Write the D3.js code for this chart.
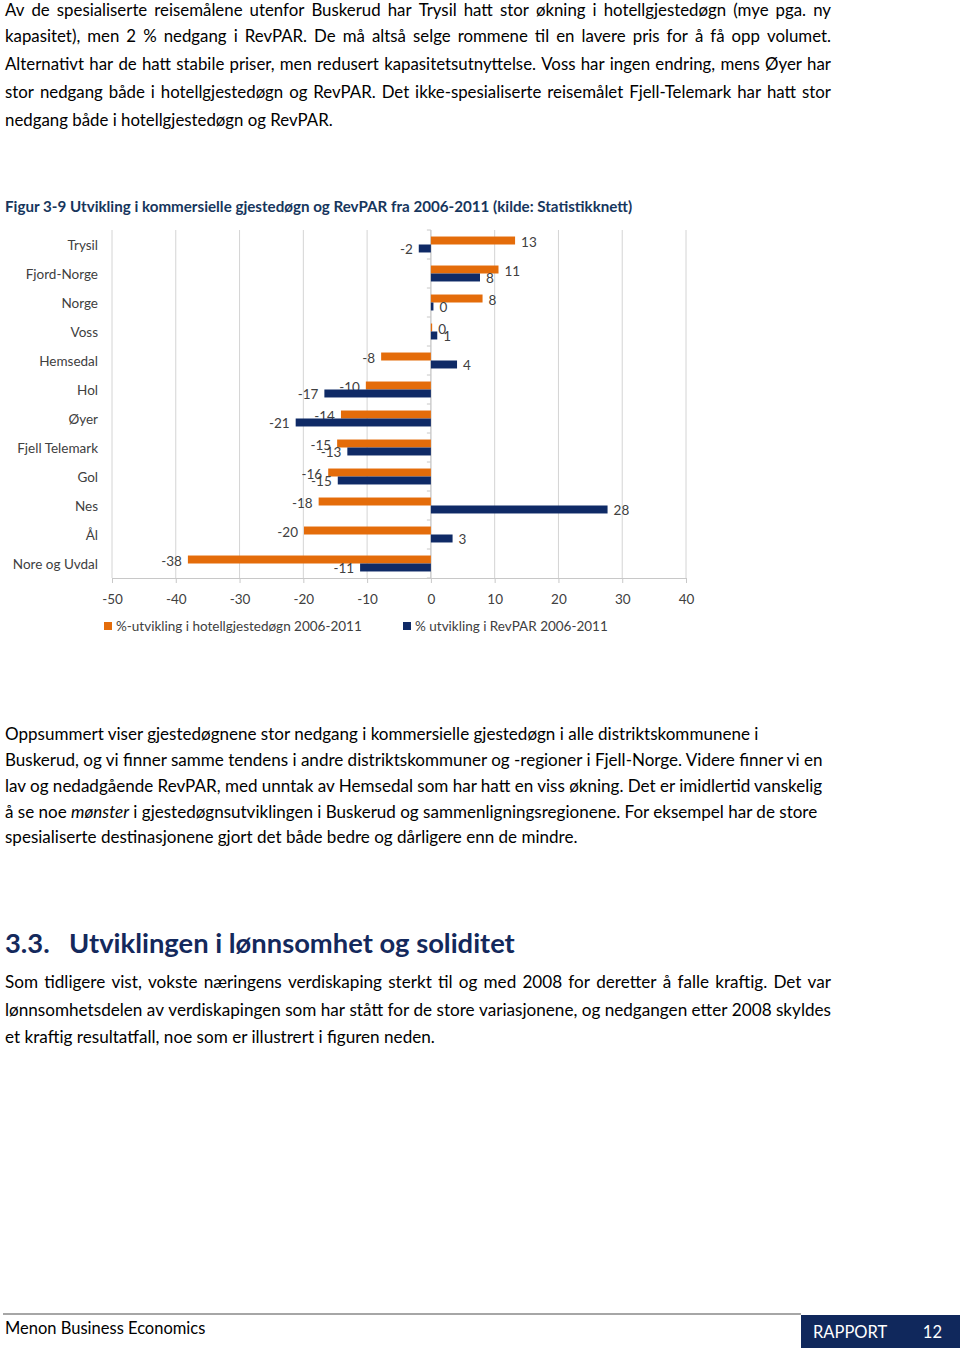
<!DOCTYPE html>
<html><head><meta charset="utf-8">
<script src="https://cdn.jsdelivr.net/npm/d3@7"></script>
<style>body{margin:0;background:#fff}svg{display:block}</style>
</head><body>
<svg id="page" width="960" height="1353"></svg>
<script>
// ---------- DATA ----------
const categories = ["Trysil","Fjord-Norge","Norge","Voss","Hemsedal","Hol","Øyer","Fjell Telemark","Gol","Nes","Ål","Nore og Uvdal"];
const guestNights = [13.2, 10.6, 8.1, 0.2, -7.8, -10.2, -14.1, -14.7, -16.1, -17.6, -19.9, -38.1];
const revpar      = [-1.9, 7.7, 0.4, 1.0, 4.1, -16.7, -21.2, -13.1, -14.6, 27.7, 3.4, -11.1];
const xTicks = [-50, -40, -30, -20, -10, 0, 10, 20, 30, 40];
const seriesNames = ["%-utvikling i hotellgjestedøgn 2006-2011", "% utvikling i RevPAR 2006-2011"];
const figureTitle = "Figur 3-9 Utvikling i kommersielle gjestedøgn og RevPAR fra 2006-2011 (kilde: Statistikknett)";

const para1 = [
  "Av de spesialiserte reisemålene utenfor Buskerud har Trysil hatt stor økning i hotellgjestedøgn (mye pga. ny",
  "kapasitet), men 2 % nedgang i RevPAR. De må altså selge rommene til en lavere pris for å få opp volumet.",
  "Alternativt har de hatt stabile priser, men redusert kapasitetsutnyttelse. Voss har ingen endring, mens Øyer har",
  "stor nedgang både i hotellgjestedøgn og RevPAR. Det ikke-spesialiserte reisemålet Fjell-Telemark har hatt stor",
  "nedgang både i hotellgjestedøgn og RevPAR."
];
const para2 = [
  "Oppsummert viser gjestedøgnene stor nedgang i kommersielle gjestedøgn i alle distriktskommunene i",
  "Buskerud, og vi finner samme tendens i andre distriktskommuner og -regioner i Fjell-Norge. Videre finner vi en",
  "lav og nedadgående RevPAR, med unntak av Hemsedal som har hatt en viss økning. Det er imidlertid vanskelig",
  "å se noe |mønster| i gjestedøgnsutviklingen i Buskerud og sammenligningsregionene. For eksempel har de store",
  "spesialiserte destinasjonene gjort det både bedre og dårligere enn de mindre."
];
const heading = ["3.3.", "Utviklingen i lønnsomhet og soliditet"];
const para3 = [
  "Som tidligere vist, vokste næringens verdiskaping sterkt til og med 2008 for deretter å falle kraftig. Det var",
  "lønnsomhetsdelen av verdiskapingen som har stått for de store variasjonene, og nedgangen etter 2008 skyldes",
  "et kraftig resultatfall, noe som er illustrert i figuren neden."
];
const footerLeft = "Menon Business Economics";
const footerRight = ["RAPPORT", "12"];

// ---------- STYLE ----------
const FONT = "Lato, 'Open Sans', sans-serif";
const ORANGE = "#E46C0A", NAVY = "#0f2a66", TXT = "#404040", DARKBLUE = "#17365D", HEADBLUE = "#14295c";

const svg = d3.select("#page");
const locale = d3.formatLocale({decimal: ".", thousands: "", grouping: [3], currency: ["", ""], minus: "-"});
const fmt = locale.format(".0f");

function measure(str, size, weight, style) {
  const t = svg.append("text").attr("font-family", FONT).attr("font-size", size)
    .attr("font-weight", weight || "normal").attr("font-style", style || "normal").text(str);
  const w = t.node().getComputedTextLength(); t.remove(); return w;
}

function drawParagraph(lines, x, baselines, width, size, justifyAll) {
  lines.forEach((line, i) => {
    const justify = justifyAll && i < lines.length - 1;
    const y = baselines[i];
    if (!justify) {
      const t = svg.append("text").attr("x", x).attr("y", y).attr("font-family", FONT)
        .attr("font-size", size).attr("fill", "#000").attr("xml:space", "preserve");
      line.split("|").forEach((seg, k) => {
        t.append("tspan").attr("font-style", k % 2 ? "italic" : "normal").text(seg);
      });
      return;
    }
    const words = line.split(" ");
    const ws = words.map(w => measure(w, size));
    const gap = (width - d3.sum(ws)) / (words.length - 1);
    let cx = x;
    words.forEach((w, k) => {
      svg.append("text").attr("x", cx).attr("y", y).attr("font-family", FONT)
        .attr("font-size", size).attr("fill", "#000").text(w);
      cx += ws[k] + gap;
    });
  });
}

const s1 = 16 * 328 / measure(para1[4], 16);
const s2 = 16 * 754 / measure(para2[0], 16);
const s3 = 16 * 430 / measure(para3[2], 16);

drawParagraph(para1, 5, [15.5, 42, 70, 98, 126], 826, s1, true);
drawParagraph(para2, 5, [740, 766, 792, 818, 843], 0, s2, false);
drawParagraph(para3, 5, [988, 1016, 1043], 826, s3, true);

const hs = 24 * 446 / measure(heading[1], 24, "bold");
svg.append("text").attr("x", 5).attr("y", 953).attr("font-family", FONT).attr("font-size", hs)
  .attr("font-weight", "bold").attr("fill", HEADBLUE).text(heading[0]);
svg.append("text").attr("x", 69).attr("y", 953).attr("font-family", FONT).attr("font-size", hs)
  .attr("font-weight", "bold").attr("fill", HEADBLUE).text(heading[1]);

const ts = 14 * 628 / measure(figureTitle, 14, "bold");
svg.append("text").attr("x", 5).attr("y", 212).attr("font-family", FONT).attr("font-size", ts)
  .attr("font-weight", "bold").attr("fill", DARKBLUE).text(figureTitle);

// ---------- CHART ----------
const x = d3.scaleLinear().domain([-50, 40]).range([112, 686]);
const y = d3.scaleBand().domain(categories).range([230, 578]).paddingInner(0.45).paddingOuter(0.225);
const sub = d3.scaleBand().domain([0, 1]).range([0, y.bandwidth()]);
const g = svg.append("g");

g.append("g").selectAll("line").data(xTicks).join("line")
  .attr("x1", d => x(d)).attr("x2", d => x(d)).attr("y1", 230).attr("y2", 578)
  .attr("stroke", "#d4d4d4").attr("stroke-width", 1);

const xAxis = d3.axisBottom(x).tickValues(xTicks).tickSize(5).tickPadding(11).tickFormat(fmt);
const ax = g.append("g").attr("transform", "translate(0,578)").call(xAxis);
ax.select(".domain").attr("stroke", "#c8c8c8");
ax.selectAll(".tick line").attr("stroke", "#c8c8c8");
ax.selectAll(".tick text").attr("font-family", FONT).attr("font-size", 13.5).attr("fill", TXT);

g.append("line").attr("x1", x(0)).attr("x2", x(0)).attr("y1", 230).attr("y2", 578).attr("stroke", "#c8c8c8");
g.append("g").selectAll("line").data(d3.range(categories.length + 1)).join("line")
  .attr("x1", x(0) - 4).attr("x2", x(0)).attr("y1", i => 230 + i * y.step()).attr("y2", i => 230 + i * y.step())
  .attr("stroke", "#c8c8c8");

g.append("g").selectAll("text").data(categories).join("text")
  .attr("x", 98).attr("y", d => y(d) - y.step() * 0.225 + y.step() / 2)
  .attr("text-anchor", "end").attr("dominant-baseline", "central")
  .attr("font-family", FONT).attr("font-size", 13.5).attr("fill", TXT).text(d => d);

const series = [guestNights, revpar];
const colors = [ORANGE, NAVY];
series.forEach((vals, si) => {
  const data = categories.map((c, i) => ({c, v: vals[i]}));
  g.append("g").selectAll("rect").data(data).join("rect")
    .attr("x", d => x(Math.min(0, d.v))).attr("width", d => Math.abs(x(d.v) - x(0)))
    .attr("y", d => y(d.c) + sub(si)).attr("height", sub.bandwidth())
    .attr("fill", colors[si]);
  g.append("g").selectAll("text").data(data).join("text")
    .attr("x", d => d.v >= 0 ? x(d.v) + 6 : x(d.v) - 6)
    .attr("text-anchor", d => d.v >= 0 ? "start" : "end")
    .attr("y", d => y(d.c) + sub(si) + sub.bandwidth() / 2 + 1)
    .attr("dominant-baseline", "central")
    .attr("font-family", FONT).attr("font-size", 13.5).attr("fill", TXT)
    .text(d => fmt(d.v));
});

const legX = [104, 403];
seriesNames.forEach((n, i) => {
  g.append("rect").attr("x", legX[i]).attr("y", 622).attr("width", 8).attr("height", 8).attr("fill", colors[i]);
  g.append("text").attr("x", legX[i] + 12).attr("y", 626).attr("dominant-baseline", "central")
    .attr("font-family", FONT).attr("font-size", 13.5).attr("fill", TXT).text(n);
});

// ---------- FOOTER ----------
svg.append("line").attr("x1", 3).attr("x2", 801).attr("y1", 1314).attr("y2", 1314)
  .attr("stroke", "#a6a6a6").attr("stroke-width", 2);
svg.append("text").attr("x", 5).attr("y", 1334).attr("font-family", FONT).attr("font-size", 16.5)
  .attr("fill", "#000").text(footerLeft);
svg.append("rect").attr("x", 801).attr("y", 1315).attr("width", 159).attr("height", 33).attr("fill", "#10285c");
svg.append("text").attr("x", 813).attr("y", 1338).attr("font-family", FONT).attr("font-size", 16.5)
  .attr("fill", "#fff").text(footerRight[0]);
svg.append("text").attr("x", 942).attr("y", 1338).attr("text-anchor", "end").attr("font-family", FONT).attr("font-size", 16.5)
  .attr("fill", "#fff").text(footerRight[1]);
</script>
</body></html>
